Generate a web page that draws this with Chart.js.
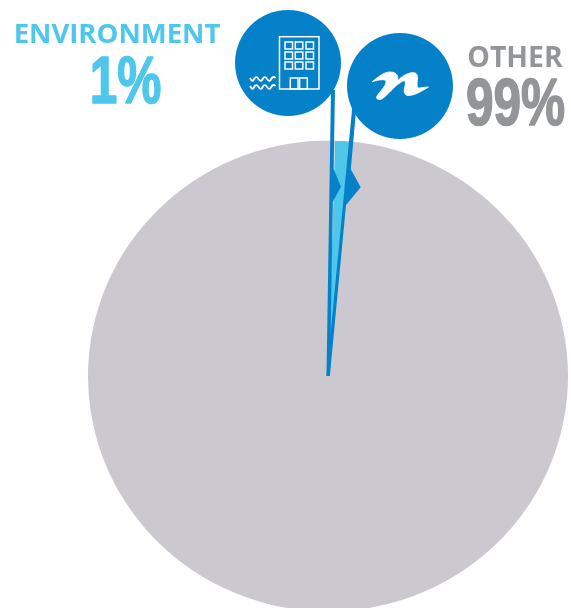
<!DOCTYPE html>
<html>
<head>
<meta charset="utf-8">
<title>Environment share</title>
<script src="https://cdn.jsdelivr.net/npm/chart.js"></script>
<style>
  html, body { margin: 0; padding: 0; background: #fff; overflow: hidden; }
  canvas { display: block; }
</style>
</head>
<body>
<canvas id="shareChart" width="571" height="608"></canvas>
<script>
const categories = ['ENVIRONMENT', 'OTHER'];
const shares = [1, 99];
const sliceColors = ['#4EC7EB', '#CBC8D0'];
const labelColors = ['#4EC7EB', '#939598'];

const BLUE = '#0581C9';

function polygon(ctx, pts) {
    ctx.beginPath();
    pts.forEach((p, i) => i ? ctx.lineTo(p[0], p[1]) : ctx.moveTo(p[0], p[1]));
    ctx.closePath();
    ctx.fill();
}

function circle(ctx, x, y, r) {
    ctx.beginPath();
    ctx.arc(x, y, r, 0, Math.PI * 2);
    ctx.fill();
}

// Building and waves icon in the left circle
function drawBuilding(ctx) {
    ctx.strokeStyle = '#fff';
    ctx.lineWidth = 1.5;
    ctx.strokeRect(279.5, 36.7, 39.5, 52.3);
    [285, 295.3, 306].forEach(x => {
        [42, 52, 62].forEach(y => ctx.strokeRect(x, y, 7.5, 7));
    });
    ctx.strokeRect(290.3, 78, 7.7, 11);
    ctx.strokeRect(299.6, 78, 7.7, 11);
    ctx.lineWidth = 1.9;
    [79, 87].forEach(y => {
        ctx.beginPath();
        ctx.moveTo(250, y - 1);
        for (let i = 0; i < 3; i++) {
            const x = 250 + i * 8.5;
            ctx.bezierCurveTo(x + 2, y + 2.5, x + 3, y + 2.5, x + 4.2, y);
            ctx.bezierCurveTo(x + 5.5, y - 2.5, x + 7, y - 2.5, x + 8.5, y - (i === 2 ? 1 : 0));
        }
        ctx.stroke();
    });
}

// Squiggle logo in the right circle
function drawSquiggle(ctx) {
    ctx.fillStyle = '#fff';
    ctx.strokeStyle = '#fff';
    ctx.lineWidth = 0.8;
    ctx.beginPath();
    ctx.moveTo(372.3, 81.7);
    ctx.bezierCurveTo(379, 76, 385, 71.5, 391, 72);
    ctx.bezierCurveTo(397, 72.5, 398.5, 76, 397.5, 81);
    ctx.bezierCurveTo(400, 78, 404, 74.5, 410, 73);
    ctx.bezierCurveTo(416, 71.5, 418, 74.5, 417.5, 79);
    ctx.bezierCurveTo(417, 84, 416.5, 88, 419, 88);
    ctx.bezierCurveTo(421, 88, 425, 87, 428.5, 87);
    ctx.bezierCurveTo(422, 91, 414, 96, 408, 95.5);
    ctx.bezierCurveTo(403, 95, 404, 90, 405, 86);
    ctx.bezierCurveTo(406, 81, 405, 80, 402, 81.5);
    ctx.bezierCurveTo(394, 86, 388, 95, 382, 99);
    ctx.bezierCurveTo(378, 100.5, 375.5, 98.5, 377, 96);
    ctx.bezierCurveTo(380, 91, 385.5, 87, 386, 82);
    ctx.bezierCurveTo(386.5, 79, 381, 79, 372.3, 81.7);
    ctx.closePath();
    ctx.fill();
    ctx.stroke();
}

// Condensed heavy percentage label
function bigNumber(ctx, text, x, y, color) {
    ctx.save();
    ctx.translate(x, y);
    ctx.scale(0.74, 1);
    ctx.font = '700 67px "Liberation Sans"';
    ctx.fillStyle = color;
    ctx.strokeStyle = color;
    ctx.lineWidth = 1.6;
    ctx.lineJoin = 'round';
    ctx.fillText(text, 0, 0);
    ctx.strokeText(text, 0, 0);
    ctx.restore();
}

// The reference pie is slightly squashed vertically
const squash = {
    id: 'squash',
    beforeDatasetsDraw(chart) {
        const arc = chart.getDatasetMeta(0).data[0];
        chart.ctx.save();
        chart.ctx.translate(arc.x, arc.y);
        chart.ctx.scale(1, 0.981);
        chart.ctx.translate(-arc.x, -arc.y);
    },
    afterDatasetsDraw(chart) {
        chart.ctx.restore();
    }
};

// Leader lines, circles and big labels on top of the pie
const callouts = {
    id: 'callouts',
    afterDraw(chart) {
        const ctx = chart.ctx;
        ctx.save();
        ctx.fillStyle = BLUE;
        polygon(ctx, [[331, 90], [335, 90], [333.6, 169], [341, 186.7], [332.8, 201.7], [330, 376], [326.5, 376]]);
        polygon(ctx, [[352.5, 105], [356.5, 105], [350.8, 169.3], [360.7, 187.3], [346, 205], [329.8, 376], [326.5, 376]]);
        circle(ctx, 288, 63, 53);
        circle(ctx, 400, 86, 53);
        drawBuilding(ctx);
        drawSquiggle(ctx);

        ctx.textBaseline = 'alphabetic';
        ctx.textAlign = 'center';
        ctx.fillStyle = labelColors[0];
        ctx.font = '700 27.5px "Open Sans"';
        ctx.fillText(categories[0], 117, 42.5);
        bigNumber(ctx, shares[0] + '%', 125.5, 103, labelColors[0]);
        ctx.fillStyle = labelColors[1];
        ctx.font = '700 28.4px "Open Sans"';
        ctx.fillText(categories[1], 515, 66.5);
        bigNumber(ctx, shares[1] + '%', 515.5, 125, labelColors[1]);
        ctx.restore();
    }
};

new Chart(document.getElementById('shareChart').getContext('2d'), {
    type: 'pie',
    data: {
        labels: categories,
        datasets: [{
            data: shares,
            backgroundColor: sliceColors,
            borderWidth: 0
        }]
    },
    options: {
        responsive: false,
        animation: false,
        events: [],
        rotation: 1.7,
        radius: 240,
        // the pie is centred at 328,376 and runs off the bottom edge
        layout: { padding: { left: 85, top: 144, right: 0, bottom: 0 } },
        plugins: {
            legend: { display: false },
            tooltip: { enabled: false }
        }
    },
    plugins: [squash, callouts]
});
</script>
</body>
</html>
